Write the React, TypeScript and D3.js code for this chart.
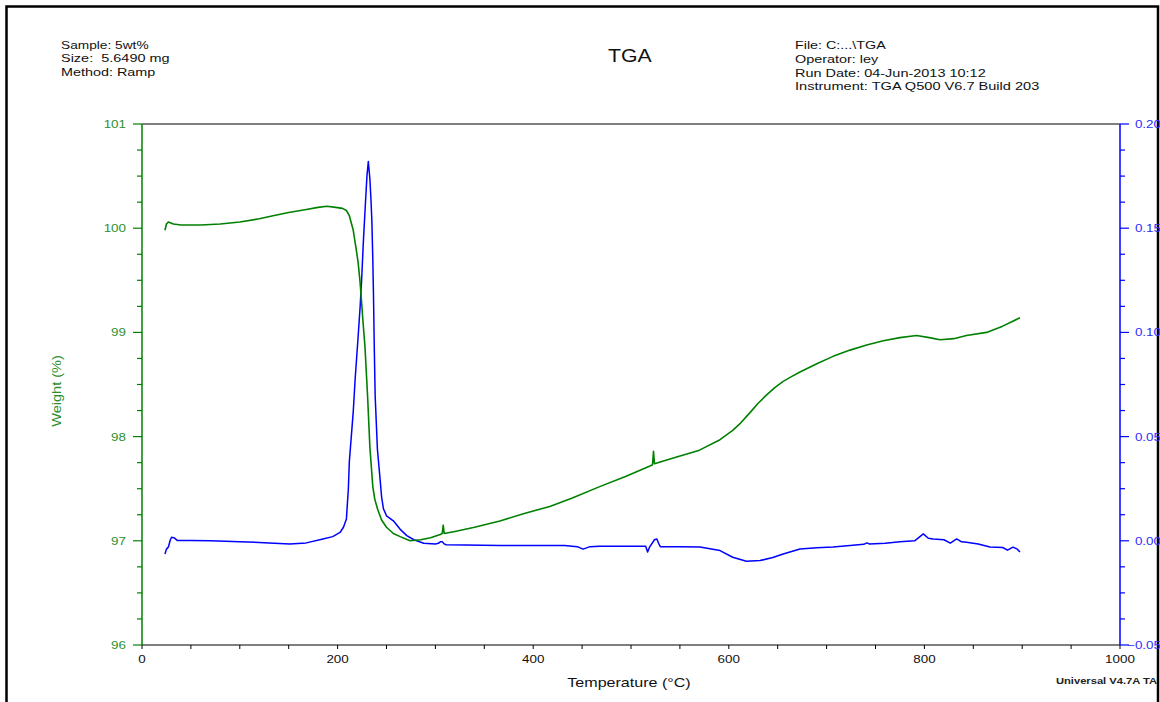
import React from "react";
import * as d3 from "d3";

// Weight curve: temperature (°C) and weight (%)
const weightTemp = [
  23.5, 25, 27, 32, 40, 60, 80, 100, 120, 134, 150, 168, 180, 189, 198, 205, 209, 212, 216, 219,
  221, 223, 224.6, 226, 228, 230.7, 233, 236, 238, 241, 245, 250, 257, 264, 274, 285, 295, 305,
  307, 308, 309, 320, 340, 366, 390, 417, 440, 468, 495, 520, 522, 523, 524, 545, 570, 591, 604,
  612, 621.7, 630, 638.7, 647, 655.6, 665, 672.8, 690, 706.6, 724, 741, 758, 775, 792, 805, 816,
  830, 843, 863.6, 880, 897.7,
];
const weightPct = [
  99.98, 100.04, 100.06, 100.04, 100.03, 100.03, 100.04, 100.06, 100.09, 100.12, 100.15, 100.18,
  100.2, 100.21, 100.2, 100.19, 100.17, 100.12, 99.98, 99.8, 99.67, 99.48, 99.28, 99.1, 98.86,
  98.38, 97.9, 97.52, 97.4, 97.3, 97.2, 97.13, 97.07, 97.04, 97.0, 97.01, 97.03, 97.06, 97.07,
  97.15, 97.07, 97.09, 97.13, 97.19, 97.26, 97.33, 97.41, 97.52, 97.62, 97.72, 97.73, 97.86,
  97.74, 97.8, 97.87, 97.97, 98.06, 98.13, 98.23, 98.32, 98.4, 98.47, 98.53, 98.58, 98.62, 98.7,
  98.77, 98.83, 98.88, 98.92, 98.95, 98.97, 98.95, 98.93, 98.94, 98.97, 99.0, 99.06, 99.14,
];

// Derivative curve (right axis)
const derivTemp = [
  23.5, 25, 27, 29, 30.3, 33, 36, 50, 70, 100, 130, 151, 168, 185, 195, 202.5, 206, 209, 211,
  212, 214, 216, 218, 221, 223, 224.6, 226.5, 228, 230, 231.4, 232, 233, 234, 235, 236, 236.7,
  237.5, 238.4, 240.7, 243.4, 245, 246.9, 250, 257, 264, 270.8, 278, 288, 300, 303, 305, 307,
  309, 311, 330, 366, 400, 432, 445, 451, 458, 468, 500, 515, 517, 519, 524, 526.4, 529, 530,
  550, 570.5, 591, 604, 618, 632, 645, 655.6, 672.8, 690, 706.6, 724, 738, 741, 744, 760, 775,
  790, 798.9, 804, 808.9, 820, 826.5, 833, 838, 843, 855, 867, 880, 885, 890.6, 895, 897.7,
];
const derivVal = [
  -0.0063, -0.004, -0.003, 0.0005, 0.0017, 0.0014, 0.0002, 0.0001, 0.0, -0.0004, -0.001, -0.0015,
  -0.001, 0.0009, 0.002, 0.004, 0.0065, 0.0105, 0.025, 0.038, 0.05, 0.062, 0.078, 0.098, 0.112,
  0.1256, 0.145, 0.158, 0.175, 0.182, 0.179, 0.1736, 0.165, 0.154, 0.135, 0.1176, 0.093, 0.0696,
  0.044, 0.0297, 0.021, 0.0153, 0.012, 0.0096, 0.0055, 0.0025, 0.0005, -0.0012, -0.0015, -0.0012,
  -0.0005, -0.0004, -0.0015, -0.0019, -0.002, -0.0023, -0.0022, -0.0023, -0.0028, -0.004, -0.0028,
  -0.0026, -0.0026, -0.0026, -0.0054, -0.003, 0.0005, 0.0009, -0.002, -0.0028, -0.0028, -0.003,
  -0.0047, -0.0079, -0.0098, -0.0095, -0.008, -0.0063, -0.0039, -0.0033, -0.003, -0.0023, -0.0017,
  -0.001, -0.0015, -0.0012, -0.0004, 0.0, 0.0033, 0.0012, 0.0009, 0.0005, -0.0011, 0.0009, -0.0005,
  -0.0007, -0.0015, -0.003, -0.0032, -0.0045, -0.003, -0.004, -0.0054,
];

const xTicks = [0, 200, 400, 600, 800, 1000];
const weightTicks = [96, 97, 98, 99, 100, 101];
const derivTicks = [-0.05, 0.0, 0.05, 0.1, 0.15, 0.2];

const headerLeft = ["Sample: 5wt%", "Size:  5.6490 mg", "Method: Ramp"];
const headerLeftWidths = [87.6, 108.6, 94.3];
const headerRight = [
  "File: C:...\\TGA",
  "Operator: ley",
  "Run Date: 04-Jun-2013 10:12",
  "Instrument: TGA Q500 V6.7 Build 203",
];
const headerRightWidths = [90.7, 83.3, 190.7, 244.3];

const FONT = "'Liberation Sans', Arial, Helvetica, sans-serif";
const GREEN = "#008000";
const GREEN_TXT = "#2f8f2f";
const BLUE = "#0000ff";
const BLUE_TXT = "#2f2fff";

const left = 142;
const right = 1120;
const top = 124;
const bottom = 645;

export default function App() {
  const x = d3.scaleLinear().domain([0, 1000]).range([left, right]);
  const yW = d3.scaleLinear().domain([96, 101]).range([bottom, top]);
  const yD = d3.scaleLinear().domain([-0.05, 0.2]).range([bottom, top]);

  const weightLine = d3
    .line<number>()
    .x((_, i) => x(weightTemp[i]))
    .y((d) => yW(d))(weightPct);
  const derivLine = d3
    .line<number>()
    .x((_, i) => x(derivTemp[i]))
    .y((d) => yD(d))(derivVal);

  const xMinor = d3.range(0, 1001, 50);
  const wMinor = d3.range(96, 101.001, 0.25);
  const dMinor = d3.range(-0.05, 0.2001, 0.0125);

  const sx = 1.22;
  const tickFont = 11;

  return (
    <svg
      width={1160}
      height={702}
      style={{ position: "absolute", left: 0, top: 0, background: "#fff" }}
      fontFamily={FONT}
    >
      <rect x={0} y={0} width={1160} height={702} fill="#fff" />
      {/* outer page frame */}
      <rect x={6.5} y={6.5} width={1151.5} height={720} fill="none" stroke="#000" strokeWidth={2.5} />

      {/* header */}
      {headerLeft.map((t, i) => (
        <text
          key={t}
          x={61}
          y={48.7 + i * 13.5}
          fontSize={10.5}
          fill="#111"
          textLength={headerLeftWidths[i]}
          lengthAdjust="spacingAndGlyphs"
          style={{ whiteSpace: "pre" }}
        >
          {t}
        </text>
      ))}
      {headerRight.map((t, i) => (
        <text
          key={t}
          x={795}
          y={49.3 + i * 13.6}
          fontSize={10.5}
          fill="#111"
          textLength={headerRightWidths[i]}
          lengthAdjust="spacingAndGlyphs"
        >
          {t}
        </text>
      ))}
      <text x={608} y={61.7} fontSize={18.5} fill="#111" textLength={43.7} lengthAdjust="spacingAndGlyphs">
        TGA
      </text>

      {/* plot frame */}
      <line x1={left} x2={right} y1={top} y2={top} stroke="#000" strokeWidth={1} />
      <line x1={left} x2={right} y1={bottom} y2={bottom} stroke="#000" strokeWidth={1.2} />

      {/* x ticks */}
      {xMinor.map((v) => (
        <line key={"xt" + v} x1={x(v)} x2={x(v)} y1={bottom} y2={bottom + 4} stroke="#000" strokeWidth={1} />
      ))}
      {xTicks.map((v) => (
        <text
          key={"xl" + v}
          transform={`translate(${x(v)},663) scale(${sx},1)`}
          textAnchor="middle"
          fontSize={tickFont}
          fill="#111"
        >
          {v}
        </text>
      ))}

      {/* left (weight) axis */}
      <line x1={left} x2={left} y1={top} y2={bottom} stroke={GREEN} strokeWidth={1.5} />
      {wMinor.map((v) => {
        const major = Math.abs(v - Math.round(v)) < 1e-6;
        return (
          <line
            key={"wt" + v}
            x1={left - (major ? 9 : 5)}
            x2={left}
            y1={yW(v)}
            y2={yW(v)}
            stroke={GREEN}
            strokeWidth={1.2}
          />
        );
      })}
      {weightTicks.map((v) => (
        <text
          key={"wl" + v}
          transform={`translate(126,${yW(v) + 4}) scale(${sx},1)`}
          textAnchor="end"
          fontSize={tickFont}
          fill={GREEN_TXT}
        >
          {v}
        </text>
      ))}
      <text
        transform={`translate(61,391) rotate(-90)`}
        textAnchor="middle"
        fontSize={12.5}
        fill={GREEN_TXT}
        textLength={71.7}
        lengthAdjust="spacingAndGlyphs"
      >
        Weight (%)
      </text>

      {/* right (derivative) axis */}
      <line x1={right} x2={right} y1={top} y2={bottom} stroke={BLUE} strokeWidth={1.5} />
      {dMinor.map((v, i) => {
        const major = i % 4 === 0;
        return (
          <line
            key={"dt" + i}
            x1={right}
            x2={right + (major ? 9 : 5)}
            y1={yD(v)}
            y2={yD(v)}
            stroke={BLUE}
            strokeWidth={1.2}
          />
        );
      })}
      {derivTicks.map((v) => (
        <text
          key={"dl" + v}
          transform={`translate(1161,${yD(v) + 4}) scale(${sx},1)`}
          textAnchor="end"
          fontSize={tickFont}
          fill={BLUE_TXT}
        >
          {d3.format(".2f")(v)}
        </text>
      ))}

      {/* curves */}
      <path d={derivLine ?? ""} fill="none" stroke={BLUE} strokeWidth={1.5} strokeLinejoin="round" />
      <path d={weightLine ?? ""} fill="none" stroke={GREEN} strokeWidth={1.6} strokeLinejoin="round" />

      {/* x axis title and footer */}
      <text x={567.3} y={687} fontSize={13.5} fill="#111" textLength={123.4} lengthAdjust="spacingAndGlyphs">
        Temperature (°C)
      </text>
      <text
        x={1056}
        y={684.3}
        fontSize={9.5}
        fontWeight="bold"
        fill="#222"
        textLength={101}
        lengthAdjust="spacingAndGlyphs"
      >
        Universal V4.7A TA
      </text>
    </svg>
  );
}
